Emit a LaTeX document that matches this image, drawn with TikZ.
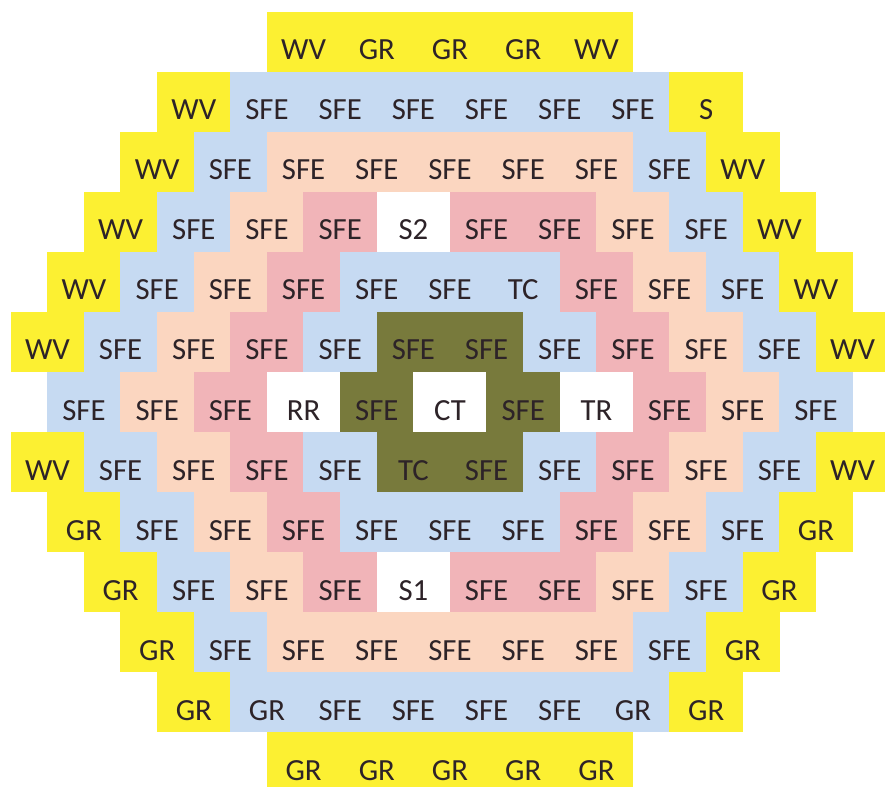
\documentclass[tikz,border=0pt]{standalone}
\usepackage{fontspec}
\setmainfont{Carlito}

\definecolor{cY}{RGB}{252,240,50}
\definecolor{cB}{RGB}{198,218,242}
\definecolor{cP}{RGB}{251,214,192}
\definecolor{cR}{RGB}{241,180,184}
\definecolor{cO}{RGB}{120,122,60}
\definecolor{ink}{RGB}{45,35,40}

\tikzset{cell/.style={rectangle, inner sep=0pt, minimum width=1.47cm, minimum height=1.21cm,
  text height=0.72cm, text depth=0pt, text=ink, font=\fontsize{17.5}{20}\selectfont}}

\begin{document}
\begin{tikzpicture}[x=0.02cm, y=-0.02cm]
	\useasboundingbox (0,0) rectangle (885,787);
	\clip (0,0) rectangle (885,787);
	% core map, row by row: column/label/colour
	\foreach \r/\row in {
		1/{3/WV/cY,4/GR/cY,5/GR/cY,6/GR/cY,7/WV/cY},
		2/{2/WV/cY,3/SFE/cB,4/SFE/cB,5/SFE/cB,6/SFE/cB,7/SFE/cB,8/SFE/cB,9/S/cY},
		3/{1/WV/cY,2/SFE/cB,3/SFE/cP,4/SFE/cP,5/SFE/cP,6/SFE/cP,7/SFE/cP,8/SFE/cB,9/WV/cY},
		4/{1/WV/cY,2/SFE/cB,3/SFE/cP,4/SFE/cR,5/S2/white,6/SFE/cR,7/SFE/cR,8/SFE/cP,9/SFE/cB,10/WV/cY},
		5/{0/WV/cY,1/SFE/cB,2/SFE/cP,3/SFE/cR,4/SFE/cB,5/SFE/cB,6/TC/cB,7/SFE/cR,8/SFE/cP,9/SFE/cB,10/WV/cY},
		6/{0/WV/cY,1/SFE/cB,2/SFE/cP,3/SFE/cR,4/SFE/cB,5/SFE/cO,6/SFE/cO,7/SFE/cB,8/SFE/cR,9/SFE/cP,10/SFE/cB,11/WV/cY},
		7/{0/SFE/cB,1/SFE/cP,2/SFE/cR,3/RR/white,4/SFE/cO,5/CT/white,6/SFE/cO,7/TR/white,8/SFE/cR,9/SFE/cP,10/SFE/cB},
		8/{0/WV/cY,1/SFE/cB,2/SFE/cP,3/SFE/cR,4/SFE/cB,5/TC/cO,6/SFE/cO,7/SFE/cB,8/SFE/cR,9/SFE/cP,10/SFE/cB,11/WV/cY},
		9/{0/GR/cY,1/SFE/cB,2/SFE/cP,3/SFE/cR,4/SFE/cB,5/SFE/cB,6/SFE/cB,7/SFE/cR,8/SFE/cP,9/SFE/cB,10/GR/cY},
		10/{1/GR/cY,2/SFE/cB,3/SFE/cP,4/SFE/cR,5/S1/white,6/SFE/cR,7/SFE/cR,8/SFE/cP,9/SFE/cB,10/GR/cY},
		11/{1/GR/cY,2/SFE/cB,3/SFE/cP,4/SFE/cP,5/SFE/cP,6/SFE/cP,7/SFE/cP,8/SFE/cB,9/GR/cY},
		12/{2/GR/cY,3/GR/cB,4/SFE/cB,5/SFE/cB,6/SFE/cB,7/SFE/cB,8/GR/cB,9/GR/cY},
		13/{3/GR/cY,4/GR/cY,5/GR/cY,6/GR/cY,7/GR/cY}} {
		\foreach \k/\s/\c in \row {
			\pgfmathsetmacro\xc{84+73.2*\k-36.6*(1-mod(\r,2))}
			\pgfmathsetmacro\yc{42+60*(\r-1)}
			\node[cell, fill=\c] (c\r-\k) at (\xc,\yc) {\s};
		}
	}
\end{tikzpicture}
\end{document}
